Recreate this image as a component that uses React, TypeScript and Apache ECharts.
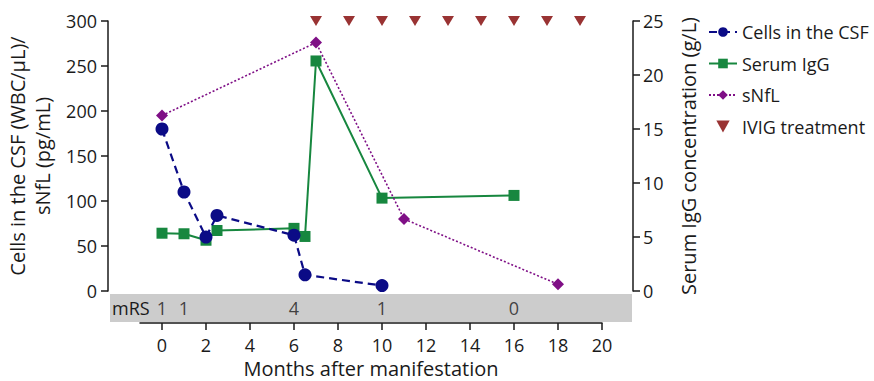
import React, { useEffect, useRef } from "react";
import * as echarts from "echarts";

const csfMonths = [0, 1, 2, 2.5, 6, 6.5, 10];
const csfValues = [180, 110, 60, 84, 62, 18, 6];
const iggMonths = [0, 1, 2, 2.5, 6, 6.5, 7, 10, 16];
const iggValues = [5.35, 5.3, 4.7, 5.6, 5.8, 5.05, 21.3, 8.6, 8.85];
const nflMonths = [0, 7, 11, 18];
const nflValues = [195, 276, 80, 7.5];
const ivigMonths = [7, 8.5, 10, 11.5, 13, 14.5, 16, 17.5, 19];
const ivigLevel = 300;
const mrsMonths = [0, 1, 6, 10, 16];
const mrsScores = [1, 1, 4, 1, 0];
const mrsRow = -19;
const xTicks = [0, 2, 4, 6, 8, 10, 12, 14, 16, 18, 20];

const FONT = "Open Sans";
const INK = "#1a1a1a";

export default function App() {
  const ref = useRef<HTMLDivElement>(null);
  useEffect(() => {
    if (!ref.current) return;
    const chart = echarts.init(ref.current, null, { renderer: "svg" });
    const zip = (a: number[], b: number[]) => a.map((v, i) => [v, b[i]]);
    const axisText = { color: INK, fontFamily: FONT, fontSize: 18 };
    const axisLine = { show: true, onZero: false, lineStyle: { color: INK, width: 1.5 } };
    const axisTick = { show: true, length: 7, lineStyle: { color: INK, width: 1.5 } };
    chart.setOption({
      animation: false,
      backgroundColor: "#ffffff",
      textStyle: { fontFamily: FONT },
      grid: { left: 140, right: 272, top: 21, bottom: 90, containLabel: false, outerBoundsMode: "none" },
      legend: {
        orient: "vertical",
        left: 703,
        top: 18,
        itemWidth: 28,
        itemHeight: 12,
        itemGap: 13.5,
        textStyle: { color: INK, fontFamily: FONT, fontSize: 18 },
        data: ["Cells in the CSF", "Serum IgG", "sNfL", "IVIG treatment"],
      },
      graphic: [
        {
          type: "rect",
          z: -10,
          shape: { x: 110, y: 294, width: 522, height: 28 },
          style: { fill: "#cccccc" },
        },
        {
          type: "text",
          z: 10,
          x: 112,
          y: 308,
          style: {
            text: "mRS",
            fill: INK,
            font: `18px "${FONT}"`,
            verticalAlign: "middle",
          },
        },
      ],
      xAxis: {
        type: "value",
        min: -1,
        max: 20,
        offset: 32,
        splitLine: { show: false },
        axisLine,
        axisTick: { ...axisTick, customValues: xTicks },
        axisLabel: { ...axisText, margin: 13, customValues: xTicks },
        name: "Months after manifestation",
        nameLocation: "middle",
        nameGap: 34,
        nameTextStyle: { color: INK, fontFamily: FONT, fontSize: 20, lineHeight: 20 },
      },
      yAxis: [
        {
          type: "value",
          min: 0,
          max: 300,
          interval: 50,
          position: "left",
          offset: 32,
          splitLine: { show: false },
          axisLine,
          axisTick,
          axisLabel: { ...axisText, margin: 11 },
          name: "Cells in the CSF (WBC/\u03bcL)/\nsNfL (pg/mL)",
          nameLocation: "middle",
          nameGap: 51,
          nameTextStyle: { color: INK, fontFamily: FONT, fontSize: 20, lineHeight: 25 },
        },
        {
          type: "value",
          min: 0,
          max: 25,
          interval: 5,
          position: "right",
          offset: 31,
          splitLine: { show: false },
          axisLine,
          axisTick,
          axisLabel: { ...axisText, margin: 10 },
          name: "Serum IgG concentration (g/L)",
          nameLocation: "middle",
          nameGap: 45,
          nameTextStyle: { color: INK, fontFamily: FONT, fontSize: 20 },
        },
      ],
      series: [
        {
          name: "mRS",
          type: "scatter",
          yAxisIndex: 0,
          clip: false,
          symbolSize: 0,
          silent: true,
          data: zip(mrsMonths, mrsMonths.map(() => mrsRow)),
          label: {
            show: true,
            position: "inside",
            formatter: (p: any) => String(mrsScores[p.dataIndex]),
            color: INK,
            fontFamily: FONT,
            fontSize: 18,
          },
          z: 5,
        },
        {
          name: "Serum IgG",
          type: "line",
          yAxisIndex: 1,
          data: zip(iggMonths, iggValues),
          symbol: "rect",
          symbolSize: 11,
          color: "#17873f",
          lineStyle: { color: "#17873f", width: 2 },
          itemStyle: { color: "#17873f" },
          z: 3,
        },
        {
          name: "sNfL",
          type: "line",
          yAxisIndex: 0,
          data: zip(nflMonths, nflValues),
          symbol: "diamond",
          symbolSize: 12,
          color: "#7f0f86",
          lineStyle: { color: "#7f0f86", width: 1.6, type: [2, 2] },
          itemStyle: { color: "#7f0f86" },
          z: 3,
        },
        {
          name: "Cells in the CSF",
          type: "line",
          yAxisIndex: 0,
          data: zip(csfMonths, csfValues),
          symbol: "circle",
          symbolSize: 13,
          color: "#0b0b86",
          lineStyle: { color: "#0b0b86", width: 2.2, type: [8, 5] },
          itemStyle: { color: "#0b0b86" },
          z: 4,
        },
        {
          name: "IVIG treatment",
          type: "scatter",
          yAxisIndex: 0,
          clip: false,
          data: zip(ivigMonths, ivigMonths.map(() => ivigLevel)),
          symbol: "path://M0,0L10,0L5,9Z",
          symbolSize: [12, 10],
          color: "#800000",
          itemStyle: { color: "#800000" },
          z: 4,
        },
      ],
    });
    return () => chart.dispose();
  }, []);
  return (
    <div
      ref={ref}
      style={{ position: "absolute", left: 0, top: 0, width: 874, height: 381 }}
    />
  );
}
